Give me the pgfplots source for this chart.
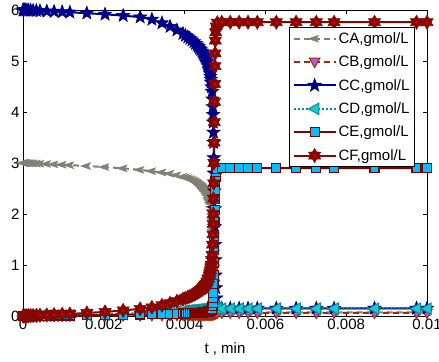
\documentclass[border=0pt]{standalone}
\usepackage{pgfplots}
\pgfplotsset{compat=1.18}
\usepackage{pgfplotstable}
\usepackage{fontspec}
\setmainfont{Liberation Sans}

\definecolor{cAline}{RGB}{128,128,118}
\definecolor{cBline}{RGB}{160,42,8}
\definecolor{cBfill}{RGB}{185,85,225}
\definecolor{cCline}{RGB}{0,0,139}
\definecolor{cDline}{RGB}{0,145,150}
\definecolor{cDfill}{RGB}{30,200,210}
\definecolor{cEline}{RGB}{128,0,0}
\definecolor{cEfill}{RGB}{0,190,255}
\definecolor{cFline}{RGB}{135,8,0}

\pgfdeclareplotmark{pentastar}{%
  \pgfpathmoveto{\pgfpointpolar{90}{\pgfplotmarksize}}%
  \pgfpathlineto{\pgfpointpolar{126}{0.42\pgfplotmarksize}}%
  \pgfpathlineto{\pgfpointpolar{162}{\pgfplotmarksize}}%
  \pgfpathlineto{\pgfpointpolar{198}{0.42\pgfplotmarksize}}%
  \pgfpathlineto{\pgfpointpolar{234}{\pgfplotmarksize}}%
  \pgfpathlineto{\pgfpointpolar{270}{0.42\pgfplotmarksize}}%
  \pgfpathlineto{\pgfpointpolar{306}{\pgfplotmarksize}}%
  \pgfpathlineto{\pgfpointpolar{342}{0.42\pgfplotmarksize}}%
  \pgfpathlineto{\pgfpointpolar{18}{\pgfplotmarksize}}%
  \pgfpathlineto{\pgfpointpolar{54}{0.42\pgfplotmarksize}}%
  \pgfpathclose\pgfusepathqfillstroke}
\pgfdeclareplotmark{hexastar}{%
  \pgfpathmoveto{\pgfpointpolar{90}{\pgfplotmarksize}}%
  \pgfpathlineto{\pgfpointpolar{120}{0.58\pgfplotmarksize}}%
  \pgfpathlineto{\pgfpointpolar{150}{\pgfplotmarksize}}%
  \pgfpathlineto{\pgfpointpolar{180}{0.58\pgfplotmarksize}}%
  \pgfpathlineto{\pgfpointpolar{210}{\pgfplotmarksize}}%
  \pgfpathlineto{\pgfpointpolar{240}{0.58\pgfplotmarksize}}%
  \pgfpathlineto{\pgfpointpolar{270}{\pgfplotmarksize}}%
  \pgfpathlineto{\pgfpointpolar{300}{0.58\pgfplotmarksize}}%
  \pgfpathlineto{\pgfpointpolar{330}{\pgfplotmarksize}}%
  \pgfpathlineto{\pgfpointpolar{0}{0.58\pgfplotmarksize}}%
  \pgfpathlineto{\pgfpointpolar{30}{\pgfplotmarksize}}%
  \pgfpathlineto{\pgfpointpolar{60}{0.58\pgfplotmarksize}}%
  \pgfpathclose\pgfusepathqfillstroke
  \pgfscope
  \pgfsetfillcolor{red}%
  \pgfpathcircle{\pgfpointorigin}{0.16\pgfplotmarksize}\pgfusepathqfill
  \endpgfscope}
\pgfdeclareplotmark{larrow}{%
  \pgfpathmoveto{\pgfpoint{-\pgfplotmarksize}{0pt}}%
  \pgfpathlineto{\pgfpoint{0.6\pgfplotmarksize}{0.55\pgfplotmarksize}}%
  \pgfpathlineto{\pgfpoint{0.25\pgfplotmarksize}{0pt}}%
  \pgfpathlineto{\pgfpoint{0.6\pgfplotmarksize}{-0.55\pgfplotmarksize}}%
  \pgfpathclose\pgfusepathqfillstroke}
\pgfdeclareplotmark{ltri}{%
  \pgfpathmoveto{\pgfpoint{-\pgfplotmarksize}{0pt}}%
  \pgfpathlineto{\pgfpoint{0.7\pgfplotmarksize}{0.95\pgfplotmarksize}}%
  \pgfpathlineto{\pgfpoint{0.7\pgfplotmarksize}{-0.95\pgfplotmarksize}}%
  \pgfpathclose\pgfusepathqfillstroke}
\pgfdeclareplotmark{dtri}{%
  \pgfpathmoveto{\pgfpoint{0pt}{-\pgfplotmarksize}}%
  \pgfpathlineto{\pgfpoint{0.95\pgfplotmarksize}{0.7\pgfplotmarksize}}%
  \pgfpathlineto{\pgfpoint{-0.95\pgfplotmarksize}{0.7\pgfplotmarksize}}%
  \pgfpathclose\pgfusepathqfillstroke}

\pgfplotstableread{
t        CA    CB     CC    CD    CE    CF
0        3.000 0.000  6.000 0.000 0.000 0.000
0.00002  3.000 0.000  6.000 0.000 0.000 0.001
0.00004  2.999 0.000  5.999 0.000 0.000 0.002
0.00007  2.998 0.000  5.998 0.001 0.001 0.003
0.0001   2.997 0.000  5.997 0.001 0.001 0.004
0.00014  2.996 0.000  5.995 0.001 0.001 0.006
0.00019  2.994 0.001  5.993 0.002 0.002 0.008
0.00025  2.992 0.001  5.990 0.002 0.002 0.010
0.00033  2.989 0.001  5.987 0.003 0.003 0.013
0.00042  2.986 0.001  5.983 0.004 0.004 0.016
0.00059  2.980 0.002  5.977 0.006 0.006 0.022
0.00077  2.973 0.002  5.970 0.008 0.008 0.028
0.00097  2.966 0.003  5.962 0.010 0.010 0.035
0.00116  2.958 0.004  5.955 0.013 0.011 0.040
0.00158  2.940 0.005  5.937 0.020 0.015 0.060
0.00203  2.920 0.007  5.915 0.030 0.020 0.080
0.00248  2.895 0.009  5.890 0.042 0.025 0.110
0.0029   2.865 0.011  5.860 0.055 0.030 0.140
0.00319  2.840 0.013  5.815 0.065 0.034 0.170
0.00344  2.815 0.015  5.745 0.076 0.038 0.210
0.00364  2.790 0.016  5.675 0.085 0.042 0.250
0.00381  2.760 0.017  5.605 0.093 0.045 0.290
0.00396  2.730 0.018  5.535 0.100 0.048 0.330
0.00402  2.715 0.019  5.500 0.103 0.050 0.350
0.00408  2.700 0.020  5.470 0.106 0.051 0.370
0.00413  2.685 0.0205 5.440 0.109 0.052 0.385
0.00418  2.670 0.021  5.410 0.112 0.054 0.400
0.00423  2.652 0.0215 5.375 0.115 0.056 0.420
0.00427  2.635 0.022  5.340 0.118 0.058 0.440
0.00431  2.617 0.0225 5.310 0.121 0.060 0.460
0.00434  2.600 0.023  5.280 0.124 0.062 0.480
0.00437  2.580 0.0235 5.250 0.127 0.064 0.495
0.0044   2.560 0.024  5.220 0.130 0.066 0.510
0.00443  2.540 0.0245 5.190 0.132 0.068 0.530
0.00445  2.520 0.025  5.160 0.134 0.070 0.550
0.00447  2.500 0.0255 5.130 0.136 0.072 0.570
0.00449  2.480 0.026  5.100 0.138 0.074 0.590
0.00451  2.460 0.0265 5.070 0.140 0.076 0.610
0.00453  2.440 0.027  5.040 0.142 0.078 0.630
0.00455  2.413 0.0277 5.000 0.145 0.081 0.660
0.00456  2.400 0.028  4.980 0.146 0.082 0.680
0.00458  2.373 0.0287 4.930 0.149 0.085 0.720
0.00459  2.360 0.029  4.900 0.150 0.087 0.740
0.00461  2.327 0.0297 4.835 0.153 0.091 0.790
0.00462  2.310 0.030  4.800 0.155 0.093 0.820
0.00463  2.285 0.0305 4.750 0.157 0.096 0.860
0.00464  2.260 0.031  4.700 0.158 0.100 0.900
0.00465  2.230 0.0315 4.640 0.160 0.105 0.950
0.00466  2.200 0.032  4.580 0.162 0.110 1.000
0.00467  2.140 0.033  4.490 0.164 0.125 1.100
0.00468  2.080 0.034  4.400 0.166 0.140 1.200
0.00469  2.000 0.035  4.250 0.168 0.190 1.400
0.0047   1.900 0.036  4.100 0.170 0.250 1.600
0.004705 1.800 0.037  3.950 0.170 0.350 1.800
0.00471  1.700 0.038  3.800 0.170 0.450 2.000
0.004715 1.560 0.039  3.600 0.169 0.620 2.300
0.00472  1.420 0.040  3.400 0.168 0.800 2.600
0.004725 1.270 0.042  3.100 0.166 1.050 3.000
0.00473  1.120 0.044  2.800 0.165 1.300 3.400
0.004735 0.970 0.046  2.450 0.163 1.575 3.800
0.00474  0.820 0.048  2.100 0.162 1.850 4.200
0.004745 0.680 0.050  1.750 0.160 2.075 4.550
0.00475  0.540 0.052  1.400 0.158 2.300 4.900
0.004755 0.430 0.0535 1.100 0.156 2.460 5.150
0.00476  0.320 0.055  0.800 0.155 2.620 5.400
0.00477  0.220 0.057  0.550 0.152 2.730 5.560
0.00478  0.140 0.058  0.350 0.150 2.820 5.680
0.00481  0.085 0.060  0.180 0.145 2.880 5.750
0.00492  0.070 0.060  0.150 0.143 2.900 5.760
0.00513  0.070 0.060  0.150 0.143 2.900 5.760
0.00535  0.070 0.060  0.150 0.143 2.900 5.760
0.00557  0.070 0.060  0.150 0.143 2.900 5.760
0.0058   0.070 0.060  0.150 0.143 2.900 5.760
0.00627  0.070 0.060  0.150 0.143 2.900 5.760
0.00676  0.070 0.060  0.150 0.143 2.900 5.760
0.00726  0.070 0.060  0.150 0.143 2.900 5.760
0.0077   0.070 0.060  0.150 0.143 2.900 5.760
0.0087   0.070 0.060  0.150 0.143 2.900 5.760
0.00974  0.070 0.060  0.150 0.143 2.900 5.760
0.01     0.070 0.060  0.150 0.143 2.900 5.760
}\datatable

\begin{document}
\begin{tikzpicture}
\begin{axis}[
  width=404pt, height=306pt, scale only axis,
  xmin=0, xmax=0.01, ymin=0, ymax=6,
  clip=false,
  scaled x ticks=false,
  axis line style={line width=0.8pt},
  xtick={0,0.002,0.004,0.006,0.008,0.01},
  xticklabels={0,0.002,0.004,0.006,0.008,0.01},
  ytick={0,1,2,3,4,5,6},
  tick align=inside,
  major tick length=4pt,
  tick style={black, line width=0.6pt},
  /pgf/number format/assume math mode=true,
  ticklabel style={font=\fontsize{15}{17}\selectfont},
  xlabel={t , min},
  xlabel style={font=\fontsize{15}{17}\selectfont, yshift=-6pt},
  legend cell align=left,
  legend style={at={(0.970,0.944)}, anchor=north east, draw=black, fill=white,
    line width=0.8pt, font=\fontsize{15}{17}\selectfont, row sep=7pt,
    inner sep=3pt},
  legend image code/.code={\draw[mark repeat=2,mark phase=2] plot coordinates {(0pt,0pt) (21pt,0pt) (42pt,0pt)};},
]
\addplot[cAline, line width=2pt, dash pattern=on 6pt off 4pt, mark=larrow, mark size=6pt,
  mark options={solid, fill=cAline, draw=cAline, line width=0.6pt}] table[x=t,y=CA] {\datatable};
\addlegendentry{CA,gmol/L}
\addplot[cBline, line width=2pt, dash pattern=on 6pt off 4pt, mark=dtri, mark size=5.5pt,
  mark options={solid, fill=cBfill, draw=cBline, line width=1pt}] table[x=t,y=CB] {\datatable};
\addlegendentry{CB,gmol/L}
\addplot[cCline, line width=2pt, mark=pentastar, mark size=7pt,
  mark options={solid, fill=cCline, draw=cCline, line width=0.6pt}] table[x=t,y=CC] {\datatable};
\addlegendentry{CC,gmol/L}
\addplot[cDline, line width=2pt, dash pattern=on 2pt off 2pt, mark=ltri, mark size=6pt,
  mark options={solid, fill=cDfill, draw=cDline, line width=1pt}] table[x=t,y=CD] {\datatable};
\addlegendentry{CD,gmol/L}
\addplot[cEline, line width=2pt, mark=square*, mark size=4.5pt,
  mark options={solid, fill=cEfill, draw=cEline, line width=1.2pt}] table[x=t,y=CE] {\datatable};
\addlegendentry{CE,gmol/L}
\addplot[cFline, line width=2pt, mark=hexastar, mark size=7pt,
  mark options={solid, fill=cFline, draw=cFline, line width=0.6pt}] table[x=t,y=CF] {\datatable};
\addlegendentry{CF,gmol/L}
\end{axis}
\pgfresetboundingbox
\useasboundingbox ([shift={(-23pt,-46pt)}]current axis.south west) rectangle ([shift={(12pt,10pt)}]current axis.north east);
\end{tikzpicture}
\end{document}
